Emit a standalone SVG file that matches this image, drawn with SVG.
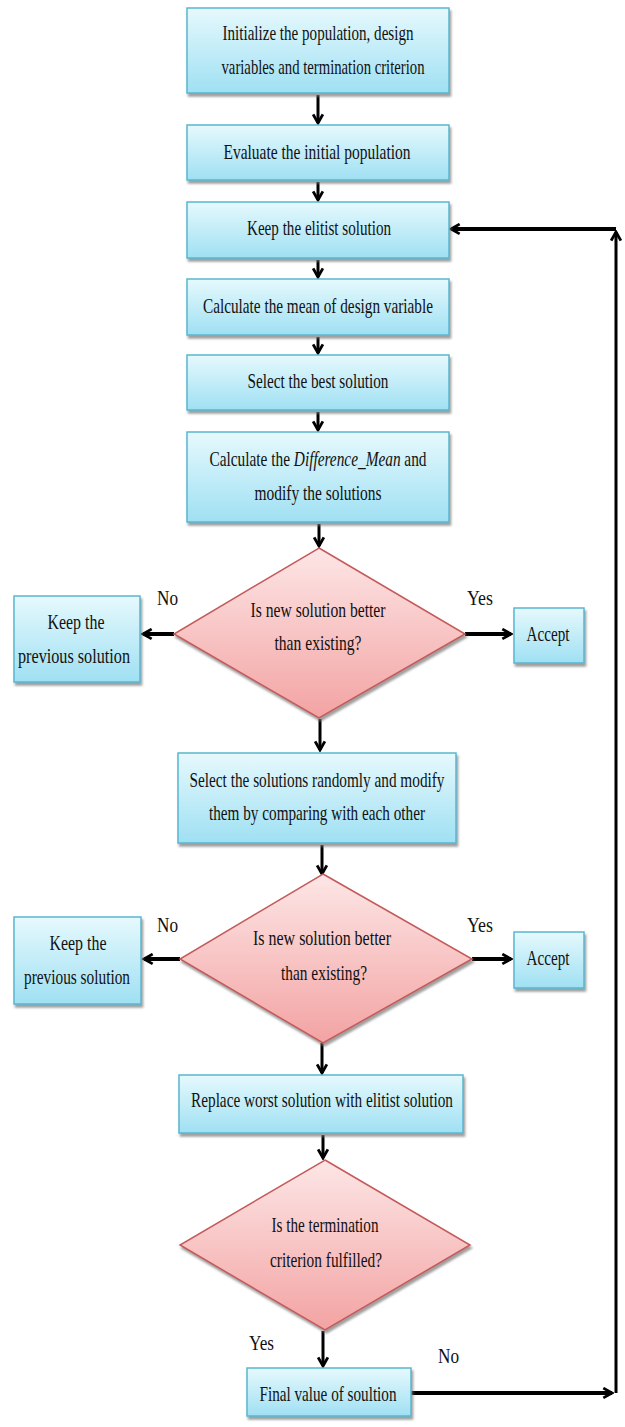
<svg xmlns="http://www.w3.org/2000/svg" width="625" height="1427" viewBox="0 0 625 1427">
<style>
.box{fill:url(#gb);stroke:#5ab6cf;stroke-width:1.5;filter:url(#sh)}
.dia{fill:url(#gd);stroke:#c55a5a;stroke-width:1.5;filter:url(#sh)}
text{font-family:"Liberation Serif","Times New Roman",serif;font-size:21px;fill:#111}
.c{text-anchor:middle}
.ar{stroke:#000;stroke-width:3;fill:none;marker-end:url(#ah)}
.ar2{stroke:#000;stroke-width:4;fill:none;marker-end:url(#ah)}
</style>
<defs>
<linearGradient id="gb" x1="0" y1="0" x2="0" y2="1"><stop offset="0" stop-color="#e6f9fd"/><stop offset="1" stop-color="#9fe0f3"/></linearGradient>
<linearGradient id="gd" x1="0" y1="0" x2="0" y2="1"><stop offset="0" stop-color="#fde6e6"/><stop offset="1" stop-color="#f3a3a3"/></linearGradient>
<filter id="sh" x="-10%" y="-10%" width="130%" height="140%"><feDropShadow dx="1.5" dy="3" stdDeviation="1.2" flood-color="#777" flood-opacity="0.7"/></filter>
<marker id="ah" viewBox="0 0 12 12" refX="10" refY="6" markerWidth="13" markerHeight="13" markerUnits="userSpaceOnUse" orient="auto"><path d="M2,1.5 L10,6 L2,10.5" fill="none" stroke="#000" stroke-width="2.6" stroke-linejoin="miter"/></marker>
</defs>

<g id="connectors">
<path class="ar" d="M318,95 V123"/>
<path class="ar" d="M318,182 V200"/>
<path class="ar" d="M318,260 V277"/>
<path class="ar" d="M318,337 V353"/>
<path class="ar" d="M318,412 V430"/>
<path class="ar" d="M319,524 V546"/>
<path class="ar2" d="M174,634 H143"/>
<path class="ar2" d="M465,634 H511"/>
<path class="ar" d="M320,719 V750"/>
<path class="ar" d="M322,845 V874"/>
<path class="ar2" d="M180,959 H144"/>
<path class="ar2" d="M472,959 H511"/>
<path class="ar" d="M322,1043 V1073"/>
<path class="ar" d="M323,1135 V1158"/>
<path class="ar" d="M323,1331 V1366"/>
<path class="ar2" d="M411,1393 H612"/>
<path class="ar" d="M616,1393 V232"/>
<path class="ar2" d="M616,229 H451"/>
</g>

<g id="n1"><rect class="box" x="187" y="8" width="262" height="85"/>
<text class="c" x="318" y="40" textLength="191" lengthAdjust="spacingAndGlyphs">Initialize the population, design</text>
<text class="c" x="323" y="74" textLength="203" lengthAdjust="spacingAndGlyphs">variables and termination criterion</text></g>

<g id="n2"><rect class="box" x="187" y="125" width="262" height="55"/>
<text class="c" x="317" y="159" textLength="187" lengthAdjust="spacingAndGlyphs">Evaluate the initial population</text></g>

<g id="n3"><rect class="box" x="187" y="202" width="262" height="56"/>
<text class="c" x="319" y="235" textLength="144" lengthAdjust="spacingAndGlyphs">Keep the elitist solution</text></g>

<g id="n4"><rect class="box" x="187" y="279" width="262" height="56"/>
<text class="c" x="318" y="313" textLength="230" lengthAdjust="spacingAndGlyphs">Calculate the mean of design variable</text></g>

<g id="n5"><rect class="box" x="187" y="355" width="262" height="55"/>
<text class="c" x="318" y="388" textLength="141" lengthAdjust="spacingAndGlyphs">Select the best solution</text></g>

<g id="n6"><rect class="box" x="187" y="432" width="262" height="90"/>
<text class="c" transform="translate(318,466) scale(0.731,1)" x="0" y="0">Calculate the <tspan font-style="italic">Difference_Mean</tspan> and</text>
<text class="c" x="318" y="500" textLength="127" lengthAdjust="spacingAndGlyphs">modify the solutions</text></g>

<g id="d1"><polygon class="dia" points="319,548 465,634 319,718 174,634"/>
<text class="c" x="318" y="617" textLength="135" lengthAdjust="spacingAndGlyphs">Is new solution better</text>
<text class="c" x="318" y="650" textLength="87" lengthAdjust="spacingAndGlyphs">than existing?</text></g>

<g id="k1"><rect class="box" x="14" y="596" width="126" height="86"/>
<text class="c" x="76" y="629" textLength="57" lengthAdjust="spacingAndGlyphs">Keep the</text>
<text class="c" x="74" y="663" textLength="112" lengthAdjust="spacingAndGlyphs">previous solution</text></g>

<g id="a1"><rect class="box" x="514" y="608" width="70" height="55"/>
<text class="c" x="548" y="641" textLength="43" lengthAdjust="spacingAndGlyphs">Accept</text></g>

<g id="l1"><text x="157" y="605" textLength="21" lengthAdjust="spacingAndGlyphs">No</text>
<text x="467" y="605" textLength="26" lengthAdjust="spacingAndGlyphs">Yes</text></g>

<g id="n7"><rect class="box" x="178" y="753" width="278" height="90"/>
<text class="c" x="317" y="787" textLength="255" lengthAdjust="spacingAndGlyphs">Select the solutions randomly and modify</text>
<text class="c" x="317" y="820" textLength="216" lengthAdjust="spacingAndGlyphs">them by comparing with each other</text></g>

<g id="d2"><polygon class="dia" points="323,874 472,959 323,1043 180,959"/>
<text class="c" x="322" y="945" textLength="138" lengthAdjust="spacingAndGlyphs">Is new solution better</text>
<text class="c" x="324" y="980" textLength="86" lengthAdjust="spacingAndGlyphs">than existing?</text></g>

<g id="k2"><rect class="box" x="14" y="917" width="127" height="87"/>
<text class="c" x="78" y="950" textLength="57" lengthAdjust="spacingAndGlyphs">Keep the</text>
<text class="c" x="77" y="984" textLength="106" lengthAdjust="spacingAndGlyphs">previous solution</text></g>

<g id="a2"><rect class="box" x="514" y="932" width="70" height="56"/>
<text class="c" x="548" y="965" textLength="43" lengthAdjust="spacingAndGlyphs">Accept</text></g>

<g id="l2"><text x="157" y="932" textLength="21" lengthAdjust="spacingAndGlyphs">No</text>
<text x="467" y="932" textLength="26" lengthAdjust="spacingAndGlyphs">Yes</text></g>

<g id="n8"><rect class="box" x="179" y="1075" width="284" height="58"/>
<text class="c" x="322" y="1107" textLength="262" lengthAdjust="spacingAndGlyphs">Replace worst solution with elitist solution</text></g>

<g id="d3"><polygon class="dia" points="325,1160 470,1245 325,1330 180,1245"/>
<text class="c" x="325" y="1232" textLength="107" lengthAdjust="spacingAndGlyphs">Is the termination</text>
<text class="c" x="326" y="1267" textLength="112" lengthAdjust="spacingAndGlyphs">criterion fulfilled?</text></g>

<g id="n9"><rect class="box" x="247" y="1368" width="164" height="48"/>
<text class="c" x="328" y="1401" textLength="137" lengthAdjust="spacingAndGlyphs">Final value of soultion</text></g>

<g id="l3"><text x="249" y="1350" textLength="25" lengthAdjust="spacingAndGlyphs">Yes</text>
<text x="438" y="1363" textLength="21" lengthAdjust="spacingAndGlyphs">No</text></g>
</svg>
